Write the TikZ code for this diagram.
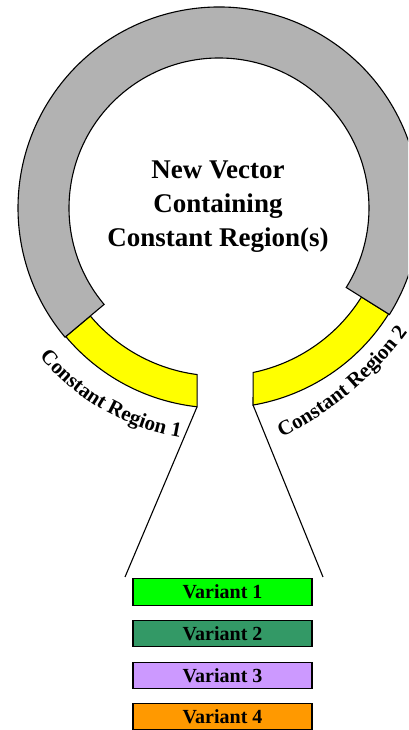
\documentclass[tikz,border=0pt]{standalone}
\usepackage{fontspec}
\setmainfont{Liberation Serif}
\usetikzlibrary{calc,decorations.text}

\definecolor{ringgray}{RGB}{178,178,178}
\definecolor{regyellow}{RGB}{255,255,0}
\definecolor{varone}{RGB}{0,255,0}
\definecolor{vartwo}{RGB}{51,153,102}
\definecolor{varthree}{RGB}{204,153,255}
\definecolor{varfour}{RGB}{255,153,0}

\tikzset{
  ringpart/.style={draw=black, line width=1.1pt},
  varbox/.style={draw=black, line width=1.2pt, minimum width=179pt, minimum height=26.5pt,
    inner sep=0pt, font=\bfseries\fontsize{20}{20}\selectfont},
  funnel/.style={black, line width=1.1pt},
}

\begin{document}
\begin{tikzpicture}[x=1pt, y=1pt]
    \useasboundingbox (0,0) rectangle (408,730);
    \clip (0,0) rectangle (408,730);
    \coordinate (C) at (219,522);

    % Constant regions (yellow)
    \fill[regyellow, ringpart] ($(C)+(220:200)$) arc[start angle=220, end angle=263.7, radius=200]
        -- ($(C)+(262.5:168)$) arc[start angle=262.5, end angle=220, radius=168] -- cycle;
    \fill[regyellow, ringpart] ($(C)+(279.8:200)$) arc[start angle=279.8, end angle=328, radius=200]
        -- ($(C)+(328:168)$) arc[start angle=328, end angle=281.7, radius=168] -- cycle;

    % Vector backbone (gray)
    \fill[ringgray, ringpart] ($(C)+(-32:201)$) arc[start angle=-32, end angle=220, radius=201]
        -- ($(C)+(220:150)$) arc[start angle=220, end angle=-32, radius=150] -- cycle;

    \node[font=\bfseries\fontsize{27}{34}\selectfont, align=center] (title) at (218,523)
        {New Vector\\Containing\\Constant Region(s)};

    % Region labels along the ring
    \path[decorate, decoration={text along path, text align=center,
        text={|\bfseries\fontsize{21}{21}\selectfont|Constant Region 1}}]
        ($(C)+(218:233)$) arc[start angle=218, end angle=262, radius=233];
    \coordinate (C2) at (126,606);
    \path[decorate, decoration={text along path, text align=center,
        text={|\bfseries\fontsize{21}{21}\selectfont|Constant Region 2}}]
        ($(C2)+(296:350)$) arc[start angle=296, end angle=324, radius=350];

    % Variant insert
    \node[varbox, fill=varone]   (v1) at (222.5,138)  {Variant 1};
    \node[varbox, fill=vartwo]   (v2) at (222.5,96.5) {Variant 2};
    \node[varbox, fill=varthree] (v3) at (222.5,54.5) {Variant 3};
    \node[varbox, fill=varfour]  (v4) at (222.5,13.5) {Variant 4};

    \coordinate (gapL) at ($(C)+(263.7:200)$);
    \coordinate (gapR) at ($(C)+(279.8:200)$);
    \coordinate (footL) at (125,153);
    \coordinate (footR) at (323,153);
    \draw[funnel] (gapL) -- (footL);
    \draw[funnel] (gapR) -- (footR);
\end{tikzpicture}
\end{document}
